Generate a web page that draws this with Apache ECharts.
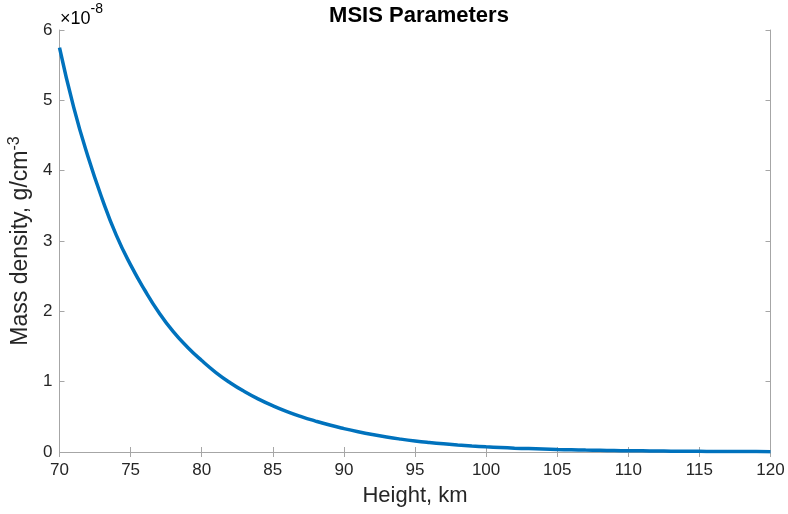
<!DOCTYPE html>
<html>
  <head>
    <meta charset="utf-8">
    <title>MSIS Parameters</title>
    <script src="https://cdn.jsdelivr.net/npm/echarts@6.0.0/dist/echarts.min.js"></script>
  </head>
  <body style="margin:0">
    <div id="chart" style="width:788px;height:514px;"></div>
  </body>
</html>
<script type="text/javascript">
  // height in km, density in units of 1e-8 g/cm^3
  const heights = [70, 71, 72, 73, 74, 75, 76, 77, 78, 79, 80, 81, 82, 83, 84, 85, 86, 87, 88, 89, 90,
    91, 92, 93, 94, 95, 96, 97, 98, 99, 100, 101, 102, 103, 104, 105, 106, 107, 108, 109, 110,
    111, 112, 113, 114, 115, 116, 117, 118, 119, 120]
  const density = [5.75, 4.90, 4.20, 3.60, 3.08, 2.66, 2.30, 1.98, 1.71, 1.49, 1.30, 1.13, 0.985, 0.86, 0.752, 0.658, 0.575, 0.503, 0.44, 0.383, 0.333,
    0.288, 0.248, 0.213, 0.183, 0.157, 0.135, 0.116, 0.1, 0.086, 0.074, 0.064, 0.055, 0.048, 0.042, 0.036, 0.031, 0.027, 0.024, 0.021, 0.018,
    0.016, 0.014, 0.012, 0.011, 0.0095, 0.0083, 0.0073, 0.0064, 0.0056, 0.005]

  const font = 'Liberation Sans'
  const lineGray = '#a6a6a6'
  const textColor = '#262626'

  const myChart = echarts.init(document.getElementById('chart'))

  const boxAxis = (pos) => ({
    position: pos,
    axisLine: { show: true, lineStyle: { color: lineGray, width: 1 } },
    axisTick: { show: true, inside: true, length: 5, lineStyle: { color: lineGray } },
    axisLabel: { show: false },
    splitLine: { show: false }
  })

  let option = {
    animation: false,
    backgroundColor: '#fff',
    title: {
      text: 'MSIS Parameters',
      left: 414, top: 0, textAlign: 'center',
      textStyle: { fontFamily: font, fontWeight: 'bold', fontSize: 22, color: '#000' }
    },
    grid: { left: 59.5, right: 17.5, top: 30, bottom: 62, outerBoundsMode: 'none' },
    graphic: [{
      type: 'text', left: 60, top: 2,
      style: {
        text: '{a|×10}{b|-8}',
        rich: {
          a: { fontFamily: font, fontSize: 18, color: textColor, padding: [8, 0, 0, 0] },
          b: { fontFamily: font, fontSize: 14, color: textColor, verticalAlign: 'top' }
        }
      }
    }],
    xAxis: [{
      type: 'value', min: 70, max: 120, interval: 5,
      name: 'Height, km', nameLocation: 'middle', nameGap: 33,
      nameTextStyle: { fontFamily: font, fontSize: 22, color: textColor },
      axisLine: { show: true, lineStyle: { color: lineGray } },
      axisTick: { show: true, inside: true, length: 5, lineStyle: { color: lineGray } },
      axisLabel: { fontFamily: font, fontSize: 17, color: textColor, margin: 10 },
      splitLine: { show: false }
    }, Object.assign({ type: 'value', min: 70, max: 120, interval: 5 }, boxAxis('top'))],
    yAxis: [{
      type: 'value', min: 0, max: 6, interval: 1,
      name: '{a|Mass density, g/cm}{b|-3}', nameLocation: 'middle', nameGap: 23,
      nameTextStyle: {
        rich: {
          a: { fontFamily: font, fontSize: 23, color: textColor },
          b: { fontFamily: font, fontSize: 16, color: textColor, verticalAlign: 'top', padding: [0, 0, 12, 0] }
        }
      },
      axisLine: { show: true, lineStyle: { color: lineGray } },
      axisTick: { show: true, inside: true, length: 5, lineStyle: { color: lineGray } },
      axisLabel: { fontFamily: font, fontSize: 17, color: textColor, margin: 7 },
      splitLine: { show: false }
    }, Object.assign({ type: 'value', min: 0, max: 6, interval: 1 }, boxAxis('right'))],
    series: [{
      type: 'line',
      data: heights.map((h, i) => [h, density[i]]),
      smooth: true,
      showSymbol: false,
      lineStyle: { color: '#0072BD', width: 3.5 }
    }]
  }

  myChart.setOption(option)
</script>
